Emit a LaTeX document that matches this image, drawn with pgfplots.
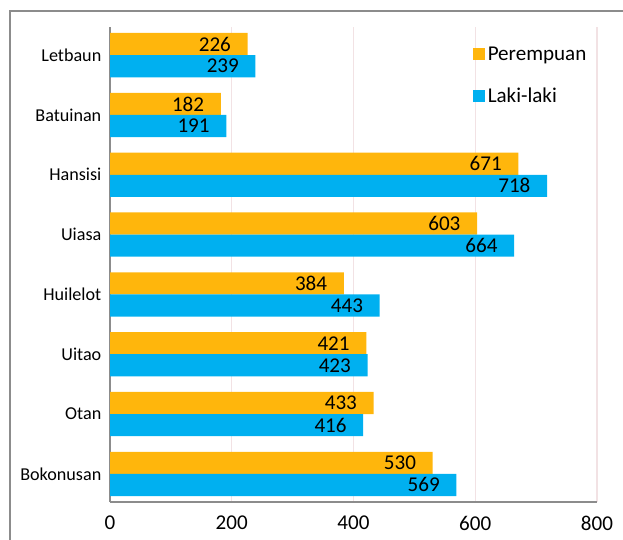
\documentclass[border=0pt]{standalone}
\usepackage{pgfplots}
\pgfplotsset{compat=1.18}
\usepackage{fontspec}
\setmainfont{Carlito}
\definecolor{orng}{RGB}{255,182,12}
\definecolor{blu}{RGB}{0,176,240}
\definecolor{gridc}{RGB}{242,226,228}
\definecolor{axc}{RGB}{140,140,140}
\begin{document}
\begin{tikzpicture}
\path[use as bounding box] (0pt,0pt) rectangle (467.25pt,404.25pt);
\draw[axc,line width=1.5pt] (7.5pt,-5pt) -- (7.5pt,396pt) -- (475pt,396pt);
\begin{axis}[
  at={(82.5pt,27.75pt)}, anchor=south west,
  scale only axis, width=365.25pt, height=356.25pt,
  xbar, y dir=reverse,
  xmin=0, xmax=800, ymin=-0.47, ymax=7.47,
  xtick={0,200,400,600,800},
  ytick={0,1,2,3,4,5,6,7},
  yticklabels={Letbaun,Batuinan,Hansisi,Uiasa,Huilelot,Uitao,Otan,Bokonusan},
  axis x line*=bottom, axis y line*=left,
  axis line style={axc, line width=1pt},
  x axis line style={-}, y axis line style={-},
  major tick length=0pt,
  xmajorgrids, grid style={gridc, line width=0.8pt},
  xticklabel style={font=\fontsize{15.8}{18}\selectfont, yshift=-9.5pt, inner sep=1pt},
  yticklabel style={font=\fontsize{13.6}{16}\selectfont, xshift=-3pt},
  /pgf/number format/assume math mode=true,
  bar width=0.37,
  nodes near coords,
  every node near coord/.append style={font=\fontsize{15.8}{18}\selectfont, anchor=east, xshift=-9pt, black},
  legend style={draw=none, fill=none, at={(0.745,0.965)}, anchor=north west,
    font=\fontsize{15.8}{19}\selectfont, row sep=15pt, inner sep=0pt},
  legend cell align=left,
  legend image code/.code={\fill[#1] (0pt,-4.5pt) rectangle (9pt,4.5pt);},
  clip=false,
]
\addplot[draw=none, fill=orng, bar shift=-0.185] coordinates {
 (226,0) (182,1) (671,2) (603,3) (384,4) (421,5) (433,6) (530,7)};
\addplot[draw=none, fill=blu, bar shift=0.185] coordinates {
 (239,0) (191,1) (718,2) (664,3) (443,4) (423,5) (416,6) (569,7)};
\legend{Perempuan, Laki-laki}
\end{axis}
\end{tikzpicture}
\end{document}
